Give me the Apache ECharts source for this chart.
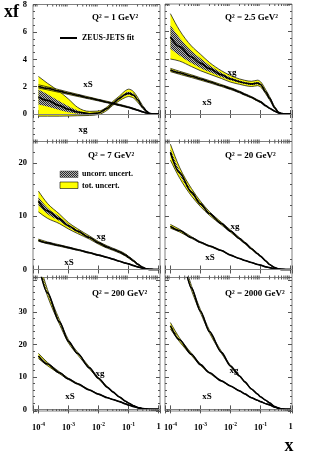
<!DOCTYPE html>
<html><head><meta charset="utf-8">
<script src="https://cdn.jsdelivr.net/npm/echarts@6/dist/echarts.min.js"></script>
<style>html,body{margin:0;padding:0;background:#fff}#c{width:310px;height:466px}</style>
</head><body><div id="c"></div>
<script>
// ---------- data ----------
const X = [1e-4, 2e-4, 5e-4, 1e-3, 2e-3, 5e-3, 1e-2, 2e-2, 3e-2, 5e-2, 0.08, 0.1, 0.15, 0.2, 0.3, 0.4, 0.5, 0.7, 1];
const xMinorTicks = [7e-5,8e-5,9e-5, 2e-4,3e-4,4e-4,5e-4,6e-4,7e-4,8e-4,9e-4, 2e-3,3e-3,4e-3,5e-3,6e-3,7e-3,8e-3,9e-3,
  2e-2,3e-2,4e-2,5e-2,6e-2,7e-2,8e-2,9e-2, 0.2,0.3,0.4,0.5,0.6,0.7,0.8,0.9];
const panelTitles = ['Q² = 1 GeV²', 'Q² = 2.5 GeV²', 'Q² = 7 GeV²', 'Q² = 20 GeV²', 'Q² = 200 GeV²', 'Q² = 2000 GeV²'];
const yTickLabels = [[0, 2, 4, 6, 8], [0, 10, 20], [0, 10, 20, 30]];

// Q2 = 1
const xg_1    = [1.25, 1.00, 0.62, 0.35, 0.15, 0.03, 0.08, 0.42, 0.78, 1.15, 1.45, 1.52, 1.38, 1.05, 0.50, 0.20, 0.05, 0.00, 0];
const xgLo_1  = [-0.15,-0.15,-0.15,-0.14,-0.12,-0.10,-0.03, 0.30, 0.64, 0.98, 1.22, 1.28, 1.16, 0.88, 0.40, 0.15, 0.03, 0, 0];
const xgHi_1  = [2.75, 2.25, 1.65, 1.10, 0.50, 0.20, 0.22, 0.55, 0.92, 1.32, 1.72, 1.82, 1.62, 1.24, 0.60, 0.25, 0.07, 0, 0];
const xgUnc_1 = [0.55, 0.45, 0.32, 0.22, 0.12, 0.05, 0.04, 0.05, 0.06, 0.08, 0.10, 0.11, 0.10, 0.08, 0.05, 0.03, 0.01, 0, 0];
const xS_1    = [2.02, 1.88, 1.68, 1.52, 1.37, 1.17, 1.02, 0.87, 0.78, 0.66, 0.55, 0.50, 0.38, 0.29, 0.16, 0.08, 0.03, 0, 0];
const xSLo_1  = [1.90, 1.77, 1.58, 1.43, 1.29, 1.10, 0.96, 0.81, 0.73, 0.61, 0.50, 0.46, 0.34, 0.26, 0.14, 0.07, 0.02, 0, 0];
const xSHi_1  = [2.14, 1.99, 1.78, 1.61, 1.45, 1.24, 1.08, 0.93, 0.83, 0.71, 0.60, 0.54, 0.42, 0.32, 0.18, 0.09, 0.04, 0, 0];
const xSUnc_1 = [0.05, 0.04, 0.04, 0.03, 0.03, 0.03, 0.02, 0.02, 0.02, 0.02, 0.02, 0.02, 0.01, 0.01, 0.01, 0, 0, 0, 0];
// Q2 = 2.5
const xg_2    = [5.60, 4.90, 4.15, 3.70, 3.30, 2.85, 2.55, 2.35, 2.25, 2.18, 2.25, 2.15, 1.60, 1.15, 0.45, 0.12, 0.03, 0, 0];
const xgLo_2  = [4.00, 3.85, 3.45, 3.15, 2.90, 2.58, 2.32, 2.16, 2.07, 2.00, 2.06, 1.97, 1.46, 1.03, 0.38, 0.09, 0.02, 0, 0];
const xgHi_2  = [7.30, 6.10, 4.95, 4.35, 3.75, 3.15, 2.80, 2.55, 2.45, 2.38, 2.46, 2.35, 1.76, 1.28, 0.52, 0.15, 0.04, 0, 0];
const xgUnc_2 = [0.85, 0.65, 0.45, 0.35, 0.25, 0.15, 0.10, 0.08, 0.07, 0.07, 0.08, 0.08, 0.07, 0.05, 0.03, 0.01, 0, 0, 0];
const xS_2    = [3.20, 3.00, 2.75, 2.55, 2.35, 2.07, 1.85, 1.60, 1.42, 1.22, 0.98, 0.88, 0.60, 0.42, 0.20, 0.08, 0.03, 0, 0];
const xSLo_2  = [3.08, 2.89, 2.65, 2.46, 2.27, 2.00, 1.78, 1.54, 1.36, 1.17, 0.93, 0.83, 0.56, 0.39, 0.18, 0.07, 0.02, 0, 0];
const xSHi_2  = [3.32, 3.11, 2.85, 2.64, 2.43, 2.14, 1.92, 1.66, 1.48, 1.27, 1.03, 0.93, 0.64, 0.45, 0.22, 0.09, 0.04, 0, 0];
const xSUnc_2 = [0.05, 0.05, 0.04, 0.04, 0.03, 0.03, 0.03, 0.02, 0.02, 0.02, 0.02, 0.02, 0.02, 0.01, 0.01, 0, 0, 0, 0];
// Q2 = 7
const xg_3    = [12.8, 11.0, 9.5, 8.2, 7.2, 6.0, 5.0, 4.2, 3.8, 3.3, 2.7, 2.3, 1.6, 1.0, 0.4, 0.1, 0.03, 0, 0];
const xgLo_3  = [10.8, 9.6, 8.6, 7.6, 6.75, 5.7, 4.75, 3.98, 3.6, 3.1, 2.5, 2.12, 1.46, 0.9, 0.35, 0.08, 0.02, 0, 0];
const xgHi_3  = [14.7, 12.4, 10.4, 8.8, 7.65, 6.3, 5.25, 4.42, 4.0, 3.5, 2.9, 2.48, 1.74, 1.1, 0.45, 0.12, 0.04, 0, 0];
const xgUnc_3 = [0.8, 0.6, 0.4, 0.3, 0.22, 0.15, 0.12, 0.1, 0.1, 0.1, 0.1, 0.09, 0.07, 0.05, 0.03, 0.01, 0, 0, 0];
const xS_3    = [5.5, 5.0, 4.5, 4.1, 3.7, 3.15, 2.7, 2.25, 1.95, 1.55, 1.2, 1.05, 0.72, 0.5, 0.22, 0.08, 0.03, 0, 0];
const xSLo_3  = [5.3, 4.83, 4.36, 3.98, 3.6, 3.07, 2.63, 2.19, 1.9, 1.5, 1.16, 1.01, 0.69, 0.48, 0.21, 0.07, 0.03, 0, 0];
const xSHi_3  = [5.7, 5.17, 4.64, 4.22, 3.8, 3.23, 2.77, 2.31, 2.0, 1.6, 1.24, 1.09, 0.75, 0.52, 0.23, 0.09, 0.03, 0, 0];
const xSUnc_3 = [0.08, 0.07, 0.06, 0.05, 0.04, 0.03, 0.03, 0.02, 0.02, 0.02, 0.02, 0.02, 0.01, 0.01, 0, 0, 0, 0, 0];
// Q2 = 20
const xg_4    = [22.0, 18.2, 14.5, 12.3, 10.5, 8.6, 7.2, 5.8, 5.0, 3.9, 2.95, 2.5, 1.6, 0.95, 0.35, 0.1, 0.03, 0, 0];
const xgLo_4  = [20.5, 17.2, 13.8, 11.8, 10.15, 8.35, 7.0, 5.63, 4.85, 3.77, 2.84, 2.4, 1.52, 0.89, 0.32, 0.09, 0.03, 0, 0];
const xgHi_4  = [23.5, 19.2, 15.2, 12.8, 10.85, 8.85, 7.4, 5.97, 5.15, 4.03, 3.06, 2.6, 1.68, 1.01, 0.38, 0.11, 0.03, 0, 0];
const xgUnc_4 = [0.6, 0.4, 0.3, 0.2, 0.15, 0.1, 0.08, 0.07, 0.06, 0.05, 0.05, 0.04, 0.03, 0.02, 0.01, 0, 0, 0, 0];
const xS_4    = [8.1, 7.3, 6.0, 5.1, 4.4, 3.55, 2.7, 2.05, 1.7, 1.3, 0.95, 0.82, 0.5, 0.35, 0.15, 0.06, 0.02, 0, 0];
const xSLo_4  = [7.75, 7.05, 5.85, 5.0, 4.32, 3.49, 2.65, 2.01, 1.66, 1.27, 0.92, 0.79, 0.48, 0.33, 0.14, 0.06, 0.02, 0, 0];
const xSHi_4  = [8.45, 7.55, 6.15, 5.2, 4.48, 3.61, 2.75, 2.09, 1.74, 1.33, 0.98, 0.85, 0.52, 0.37, 0.16, 0.06, 0.02, 0, 0];
const xSUnc_4 = [0.12, 0.08, 0.05, 0.04, 0.03, 0.02, 0.02, 0.02, 0.01, 0.01, 0.01, 0.01, 0.01, 0, 0, 0, 0, 0, 0];
// Q2 = 200
const xg_5    = [45, 36, 27, 21, 17.3, 12.8, 9.6, 6.8, 5.4, 3.8, 2.5, 1.95, 1.1, 0.6, 0.2, 0.07, 0.02, 0, 0];
const xgLo_5  = [43.8, 35, 26.3, 20.5, 16.9, 12.5, 9.38, 6.64, 5.27, 3.7, 2.43, 1.89, 1.06, 0.57, 0.19, 0.07, 0.02, 0, 0];
const xgHi_5  = [46.2, 37, 27.7, 21.5, 17.7, 13.1, 9.82, 6.96, 5.53, 3.9, 2.57, 2.01, 1.14, 0.63, 0.21, 0.07, 0.02, 0, 0];
const xgUnc_5 = [0.4, 0.35, 0.25, 0.18, 0.14, 0.1, 0.08, 0.06, 0.05, 0.04, 0.03, 0.02, 0.01, 0.01, 0, 0, 0, 0, 0];
const xS_5    = [16.5, 14.0, 11.3, 9.4, 7.9, 6.0, 4.7, 3.6, 3.05, 2.4, 1.7, 1.35, 0.85, 0.55, 0.22, 0.08, 0.03, 0, 0];
const xSLo_5  = [15.7, 13.5, 11.0, 9.2, 7.75, 5.9, 4.62, 3.54, 3.0, 2.36, 1.67, 1.32, 0.83, 0.54, 0.22, 0.08, 0.03, 0, 0];
const xSHi_5  = [17.3, 14.5, 11.6, 9.6, 8.05, 6.1, 4.78, 3.66, 3.1, 2.44, 1.73, 1.38, 0.87, 0.56, 0.22, 0.08, 0.03, 0, 0];
const xSUnc_5 = [0.25, 0.16, 0.1, 0.07, 0.05, 0.03, 0.03, 0.02, 0.02, 0.01, 0.01, 0.01, 0, 0, 0, 0, 0, 0, 0];
// Q2 = 2000
const xg_6    = [60, 50, 37.5, 30.3, 24.0, 17.6, 13.4, 10.3, 8.5, 6.3, 4.7, 3.9, 2.8, 2.0, 0.85, 0.3, 0.1, 0.01, 0];
const xgLo_6  = [59, 49.1, 36.8, 29.8, 23.6, 17.3, 13.2, 10.15, 8.38, 6.2, 4.62, 3.83, 2.75, 1.96, 0.83, 0.29, 0.1, 0.01, 0];
const xgHi_6  = [61, 50.9, 38.2, 30.8, 24.4, 17.9, 13.6, 10.45, 8.62, 6.4, 4.78, 3.97, 2.85, 2.04, 0.87, 0.31, 0.1, 0.01, 0];
const xgUnc_6 = [0.35, 0.3, 0.25, 0.18, 0.14, 0.1, 0.07, 0.05, 0.04, 0.03, 0.03, 0.02, 0.02, 0.01, 0.01, 0, 0, 0, 0];
const xS_6    = [25.8, 21.5, 17.0, 13.8, 11.3, 8.8, 7.2, 5.7, 4.8, 3.6, 2.8, 2.4, 1.75, 1.4, 0.7, 0.4, 0.15, 0.02, 0];
const xSLo_6  = [24.8, 20.9, 16.65, 13.58, 11.15, 8.7, 7.12, 5.64, 4.75, 3.56, 2.77, 2.37, 1.73, 1.38, 0.69, 0.4, 0.15, 0.02, 0];
const xSHi_6  = [26.8, 22.1, 17.35, 14.02, 11.45, 8.9, 7.28, 5.76, 4.85, 3.64, 2.83, 2.43, 1.77, 1.42, 0.71, 0.4, 0.15, 0.02, 0];
const xSUnc_6 = [0.3, 0.2, 0.12, 0.08, 0.05, 0.04, 0.03, 0.02, 0.02, 0.01, 0.01, 0.01, 0.01, 0, 0, 0, 0, 0, 0];

const panels = [
  {xg: xg_1, xgLo: xgLo_1, xgHi: xgHi_1, xgUnc: xgUnc_1, xS: xS_1, xSLo: xSLo_1, xSHi: xSHi_1, xSUnc: xSUnc_1},
  {xg: xg_2, xgLo: xgLo_2, xgHi: xgHi_2, xgUnc: xgUnc_2, xS: xS_2, xSLo: xSLo_2, xSHi: xSHi_2, xSUnc: xSUnc_2},
  {xg: xg_3, xgLo: xgLo_3, xgHi: xgHi_3, xgUnc: xgUnc_3, xS: xS_3, xSLo: xSLo_3, xSHi: xSHi_3, xSUnc: xSUnc_3},
  {xg: xg_4, xgLo: xgLo_4, xgHi: xgHi_4, xgUnc: xgUnc_4, xS: xS_4, xSLo: xSLo_4, xSHi: xSHi_4, xSUnc: xSUnc_4},
  {xg: xg_5, xgLo: xgLo_5, xgHi: xgHi_5, xgUnc: xgUnc_5, xS: xS_5, xSLo: xSLo_5, xSHi: xSHi_5, xSUnc: xSUnc_5},
  {xg: xg_6, xgLo: xgLo_6, xgHi: xgHi_6, xgUnc: xgUnc_6, xS: xS_6, xSLo: xSLo_6, xSHi: xSHi_6, xSUnc: xSUnc_6}
];

// ---------- layout / style ----------
const FONT = '"Liberation Serif", "DejaVu Serif", serif';
const XMIN = 6.6e-5, XMAX = 1.12;
const gridBoxes = [
  {left: 33, top: 4, width: 127, height: 137.5},
  {left: 165, top: 4, width: 127, height: 137.5},
  {left: 33, top: 141.5, width: 127, height: 136},
  {left: 165, top: 141.5, width: 127, height: 136},
  {left: 33, top: 277.5, width: 127, height: 133.5},
  {left: 165, top: 277.5, width: 127, height: 133.5}
];
const rowY = [
  {min: -2, max: 8, interval: 2, minor: 4},
  {min: -1.5, max: 24, step: 10, minor: 5},
  {min: -0.5, max: 40.7, step: 10, minor: 5}
];

const pat = document.createElement('canvas');
pat.width = 2; pat.height = 2;
(function () {
  const c = pat.getContext('2d');
  c.fillStyle = '#b4b4b4'; c.fillRect(0, 0, 2, 2);
  c.fillStyle = '#2a2a2a'; c.fillRect(0, 0, 1, 1); c.fillRect(1, 1, 1, 1);
})();
const hatch = {image: pat, repeat: 'repeat'};
const YELLOW = '#ffff00';
const TICK = '#555';

function xLab(v) {
  const e = Math.log10(v), r = Math.round(e);
  if (Math.abs(e - r) > 1e-6) return '';
  if (r === 0) return '{b|1}';
  return '{b|10}{s|' + r + '}';
}

// monotone cubic (in screen space) segments through pixel points
function monoSegs(P) {
  const n = P.length, sl = [], t = new Array(n);
  for (let k = 0; k < n - 1; k++) {
    const h = P[k + 1][0] - P[k][0];
    sl[k] = h ? (P[k + 1][1] - P[k][1]) / h : 0;
  }
  for (let k = 1; k < n - 1; k++) {
    const h0 = P[k][0] - P[k - 1][0], h1 = P[k + 1][0] - P[k][0];
    const s0 = sl[k - 1], s1 = sl[k], p = (s0 * h1 + s1 * h0) / (h0 + h1);
    t[k] = (Math.sign(s0) + Math.sign(s1)) * Math.min(Math.abs(s0), Math.abs(s1), 0.5 * Math.abs(p)) || 0;
  }
  t[0] = n > 2 ? (3 * sl[0] - t[1]) / 2 : sl[0];
  t[n - 1] = n > 2 ? (3 * sl[n - 2] - t[n - 2]) / 2 : sl[0];
  const segs = [];
  for (let k = 0; k < n - 1; k++) {
    const dx = (P[k + 1][0] - P[k][0]) / 3;
    segs.push([P[k][0] + dx, P[k][1] + dx * t[k], P[k + 1][0] - dx, P[k + 1][1] - dx * t[k + 1], P[k + 1][0], P[k + 1][1]]);
  }
  return segs;
}
function f(v) { return v.toFixed(2); }
function openPath(P, segs) {
  let d = 'M' + f(P[0][0]) + ' ' + f(P[0][1]);
  segs.forEach(s => { d += ' C' + s.map(f).join(' '); });
  return d;
}

const grid = [], xAxis = [], yAxis = [], series = [];
gridBoxes.forEach((g, gi) => {
  const row = Math.floor(gi / 2), col = gi % 2;
  grid.push(Object.assign({show: true, borderColor: '#808080', borderWidth: 1, backgroundColor: 'transparent'}, g));
  const ry = rowY[row];
  const common = {type: 'log', logBase: 10, gridIndex: gi, min: XMIN, max: XMAX,
    axisLine: {show: false}, splitLine: {show: false},
    axisTick: {show: true, inside: true, length: 4, lineStyle: {color: TICK, width: 1}}};
  xAxis.push(Object.assign({}, common, {position: 'bottom',
    axisLabel: {show: row === 2, margin: 11, formatter: xLab, color: '#000',
      rich: {b: {fontFamily: FONT, fontWeight: 'bold', fontSize: 8.5, color: '#000'},
             s: {fontFamily: FONT, fontWeight: 'bold', fontSize: 5.5, color: '#000', padding: [0, 0, 6, 0]}}}}));
  xAxis.push(Object.assign({}, common, {position: 'top', axisLabel: {show: false}}));
  const yc = {type: 'value', gridIndex: gi, min: ry.min, max: ry.max,
    axisLine: {show: false}, splitLine: {show: false},
    axisTick: {show: true, inside: true, length: 4, lineStyle: {color: TICK, width: 1}},
    minorTick: {show: true, splitNumber: ry.minor, length: 2, lineStyle: {color: TICK, width: 1}}};
  if (ry.interval) yc.interval = ry.interval; else { yc.minInterval = ry.step; yc.maxInterval = ry.step; }
  const labs = yTickLabels[row];
  yAxis.push(Object.assign({}, yc, {position: 'left',
    axisLabel: {show: col === 0, margin: 6, fontFamily: FONT, fontWeight: 'bold', fontSize: 8.5, color: '#000',
      formatter: v => labs.indexOf(Math.round(v * 1000) / 1000) >= 0 ? String(Math.round(v)) : ''}}));
  yAxis.push(Object.assign({}, yc, {position: 'right', axisLabel: {show: false}}));

  const xi = 2 * gi, yi = 2 * gi;
  const p = panels[gi];
  function band(lo, hi, fill, edge, z) {
    series.push({type: 'custom', xAxisIndex: xi, yAxisIndex: yi, clip: true, silent: true, z: z,
      data: X.map((x, k) => [x, lo[k], hi[k]]),
      renderItem: (params, api) => {
        if (params.dataIndex !== 0) return null;
        const up = X.map((x, k) => api.coord([x, hi[k]]));
        const dn = X.map((x, k) => api.coord([x, lo[k]]));
        const su = monoSegs(up), sd = monoSegs(dn);
        let d = openPath(up, su);
        const n = dn.length;
        d += ' L' + f(dn[n - 1][0]) + ' ' + f(dn[n - 1][1]);
        for (let k = n - 2; k >= 0; k--) {
          const s = sd[k];
          d += ' C' + [s[2], s[3], s[0], s[1], dn[k][0], dn[k][1]].map(f).join(' ');
        }
        d += ' Z';
        const kids = [{type: 'path', shape: {pathData: d}, style: {fill: fill, stroke: null}}];
        if (edge) {
          kids.push({type: 'path', shape: {pathData: openPath(up, su)}, style: {fill: null, stroke: '#000', lineWidth: 0.7}});
          kids.push({type: 'path', shape: {pathData: openPath(dn, sd)}, style: {fill: null, stroke: '#000', lineWidth: 0.7}});
        }
        return {type: 'group', children: kids};
      }});
  }
  ['xg', 'xS'].forEach(name => {
    const c = p[name], u = p[name + 'Unc'];
    band(p[name + 'Lo'], p[name + 'Hi'], YELLOW, true, 2);
    band(c.map((v, k) => v - u[k]), c.map((v, k) => v + u[k]), hatch, false, 3);
  });
  ['xg', 'xS'].forEach((name, ni) => {
    const s = {type: 'line', xAxisIndex: xi, yAxisIndex: yi, data: X.map((x, k) => [x, p[name][k]]),
      symbol: 'none', smooth: 0.3, smoothMonotone: 'x', lineStyle: {color: '#000', width: 1.6}, silent: true, z: 4};
    if (ni === 0) s.markLine = {silent: true, symbol: ['none', 'none'], label: {show: false},
      lineStyle: {color: '#808080', width: 1, type: 'solid'}, data: [{yAxis: 0}]};
    series.push(s);
  });
  series.push({type: 'custom', xAxisIndex: xi, yAxisIndex: yi, silent: true, clip: false, z: 5,
    data: xMinorTicks.map(v => [v, 0]),
    renderItem: (params, api) => {
      const pt = api.coord([api.value(0), api.value(1)]);
      const cs = params.coordSys, yb = cs.y + cs.height, yt = cs.y;
      const st = {stroke: TICK, lineWidth: 1};
      return {type: 'group', children: [
        {type: 'line', shape: {x1: pt[0], y1: yb, x2: pt[0], y2: yb - 2}, style: st},
        {type: 'line', shape: {x1: pt[0], y1: yt, x2: pt[0], y2: yt + 2}, style: st}]};
    }});
});

function txt(t, x, y, size, align) {
  return {type: 'text', x: x, y: y, silent: true, z: 10,
    style: {text: t, fontFamily: FONT, fontWeight: 'bold', fontSize: size, fill: '#000',
      align: align || 'center', verticalAlign: 'middle'}};
}
const titlePos = [[92, 17.5], [225, 17.5], [88, 156], [225, 156], [92, 294], [225, 294]];
const xgPos = [[83, 130], [232, 73], [101, 237], [235, 227], [100, 374], [234, 371]];
const xSPos = [[88, 85], [207, 103], [69, 263], [210, 258], [70, 397], [207, 397]];
const graphic = [];
panelTitles.forEach((t, i) => graphic.push(txt(t, titlePos[i][0], titlePos[i][1], 9, 'left')));
xgPos.forEach(p => graphic.push(txt('xg', p[0], p[1], 9)));
xSPos.forEach(p => graphic.push(txt('xS', p[0], p[1], 9)));
graphic.push(txt('xf', 4, 12, 18, 'left'));
graphic.push(txt('x', 289, 446, 18));
graphic.push({type: 'line', silent: true, z: 10, shape: {x1: 60, y1: 38, x2: 77, y2: 38}, style: {stroke: '#000', lineWidth: 2}});
graphic.push(txt('ZEUS-JETS fit', 82, 38, 8, 'left'));
graphic.push({type: 'rect', silent: true, z: 10, shape: {x: 60, y: 171, width: 18, height: 6.5}, style: {fill: hatch, stroke: '#444', lineWidth: 0.5}});
graphic.push(txt('uncorr. uncert.', 82, 174, 8, 'left'));
graphic.push({type: 'rect', silent: true, z: 10, shape: {x: 60, y: 182, width: 18, height: 6.5}, style: {fill: YELLOW, stroke: '#000', lineWidth: 0.6}});
graphic.push(txt('tot. uncert.', 82, 185.5, 8, 'left'));

const chart = echarts.init(document.getElementById('c'), null, {renderer: 'canvas'});
chart.setOption({animation: false, backgroundColor: '#fff', grid, xAxis, yAxis, series, graphic});
</script></body></html>
